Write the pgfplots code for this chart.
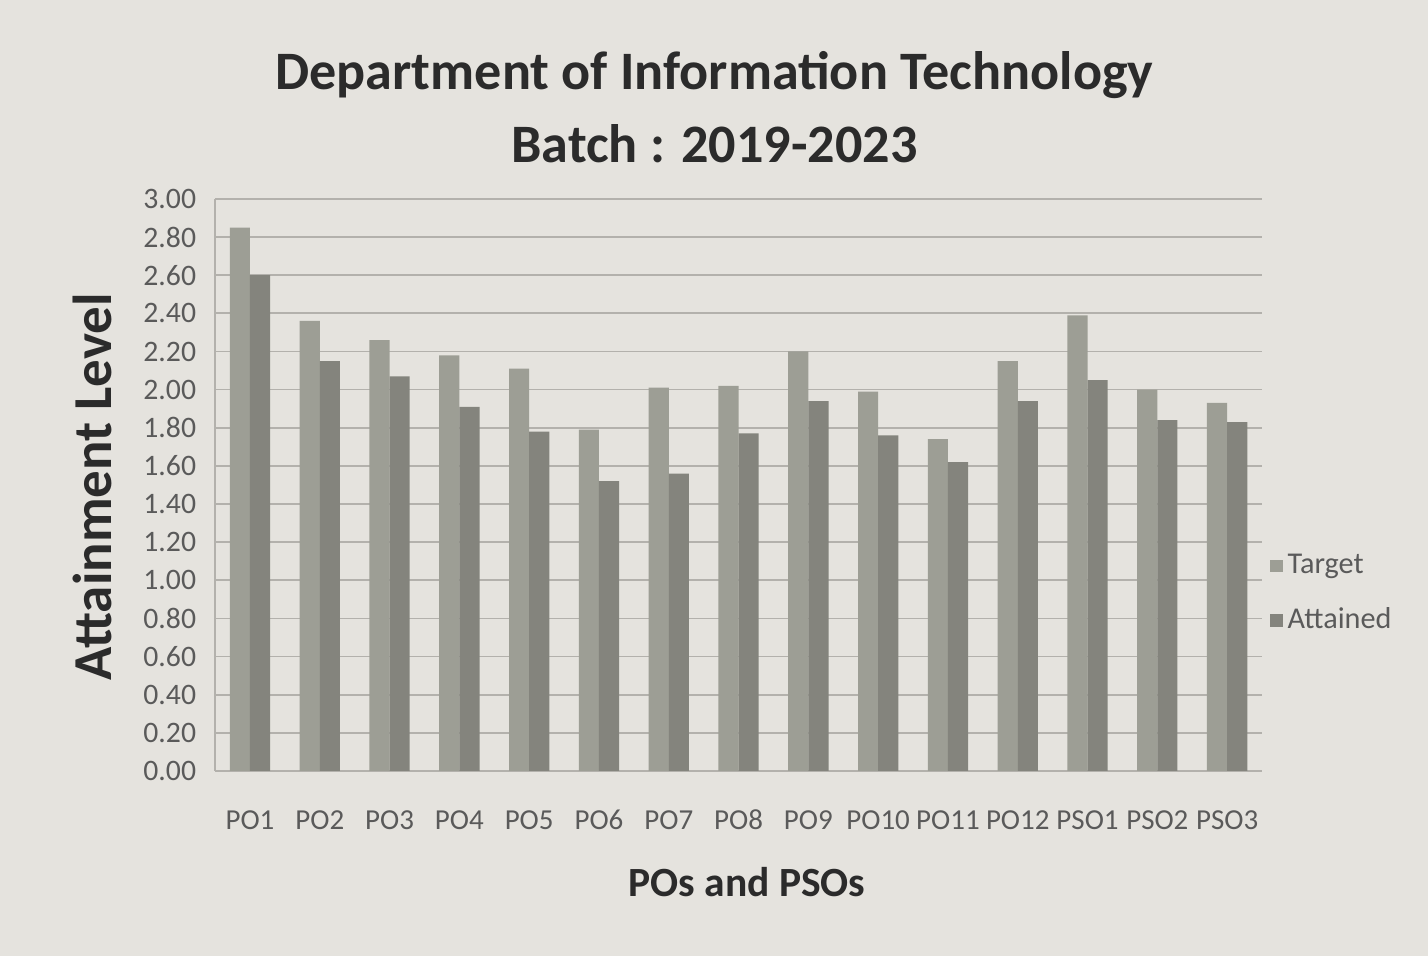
\documentclass[border=0pt]{standalone}
\usepackage{pgfplots}
\pgfplotsset{compat=1.18}
\usepackage{fontspec}
\setmainfont{Carlito}
\definecolor{paper}{HTML}{E5E3DE}
\definecolor{tgt}{HTML}{9D9E95}
\definecolor{att}{HTML}{84847D}
\definecolor{gridc}{HTML}{B3B1AC}
\definecolor{ink}{HTML}{2B2B2B}
\definecolor{tickc}{HTML}{5A5A5A}

\begin{document}
\begin{tikzpicture}
% page: 1428 x 956 px at 0.397pt per px, axis box at px (215..1262, 199..771)
\fill[paper] (-85.4pt,-73.4pt) rectangle (481.6pt,306.1pt);
\begin{axis}[
    scale only axis,
    width=415.7pt, height=227.1pt,
    ybar=0pt, bar width=8pt,
    xmin=-0.5, xmax=14.5,
    ymin=0, ymax=3,
    xtick=data,
    xticklabels={PO1,PO2,PO3,PO4,PO5,PO6,PO7,PO8,PO9,PO10,PO11,PO12,PSO1,PSO2,PSO3},
    ytick={0,0.2,...,3.01},
    /pgf/number format/fixed,
    /pgf/number format/fixed zerofill,
    /pgf/number format/precision=2,
    /pgf/number format/assume math mode=true,
    ticklabel style={text=tickc},
    xticklabel style={font=\fontsize{11.5}{13}\selectfont, yshift=-8pt, text height=1.6ex, text depth=0pt},
    yticklabel style={font=\fontsize{11.8}{13}\selectfont, xshift=-4pt},
    major tick length=4pt,
    xtick style={draw=none},
    ytick style={draw=gridc},
    ymajorgrids, grid style={gridc, line width=0.7pt},
    axis x line*=bottom, axis y line*=left,
    axis line style={gridc, line width=0.8pt, -},
    legend style={at={(1.0,0.31)}, anchor=west, draw=none, fill=none,
        font=\fontsize{12}{14}\selectfont, text=tickc, row sep=8pt,
        legend cell align=left},
    legend image code/.code={\fill[#1] (0pt,-2.5pt) rectangle (5pt,2.5pt);},
    clip=false,
]
\addplot[fill=tgt, draw=none] coordinates {
 (0,2.85) (1,2.36) (2,2.26) (3,2.18) (4,2.11) (5,1.79) (6,2.01) (7,2.02)
 (8,2.20) (9,1.99) (10,1.74) (11,2.15) (12,2.39) (13,2.00) (14,1.93)};
\addplot[fill=att, draw=none] coordinates {
 (0,2.60) (1,2.15) (2,2.07) (3,1.91) (4,1.78) (5,1.52) (6,1.56) (7,1.77)
 (8,1.94) (9,1.76) (10,1.62) (11,1.94) (12,2.05) (13,1.84) (14,1.83)};
\legend{Target, Attained}
\node[font=\fontsize{21.5}{24}\selectfont\bfseries, text=ink] at (axis description cs:0.477,1.216) {Department of Information Technology};
\node[font=\fontsize{21.5}{24}\selectfont\bfseries, text=ink] at (axis description cs:0.477,1.096) {Batch : 2019-2023};
\node[font=\fontsize{21.8}{24}\selectfont\bfseries, text=ink, rotate=90] at (axis description cs:-0.117,0.497) {Attainment Level};
\node[font=\fontsize{16.5}{19}\selectfont\bfseries, text=ink] at (axis description cs:0.508,-0.194) {POs and PSOs};
\end{axis}
\end{tikzpicture}
\end{document}
